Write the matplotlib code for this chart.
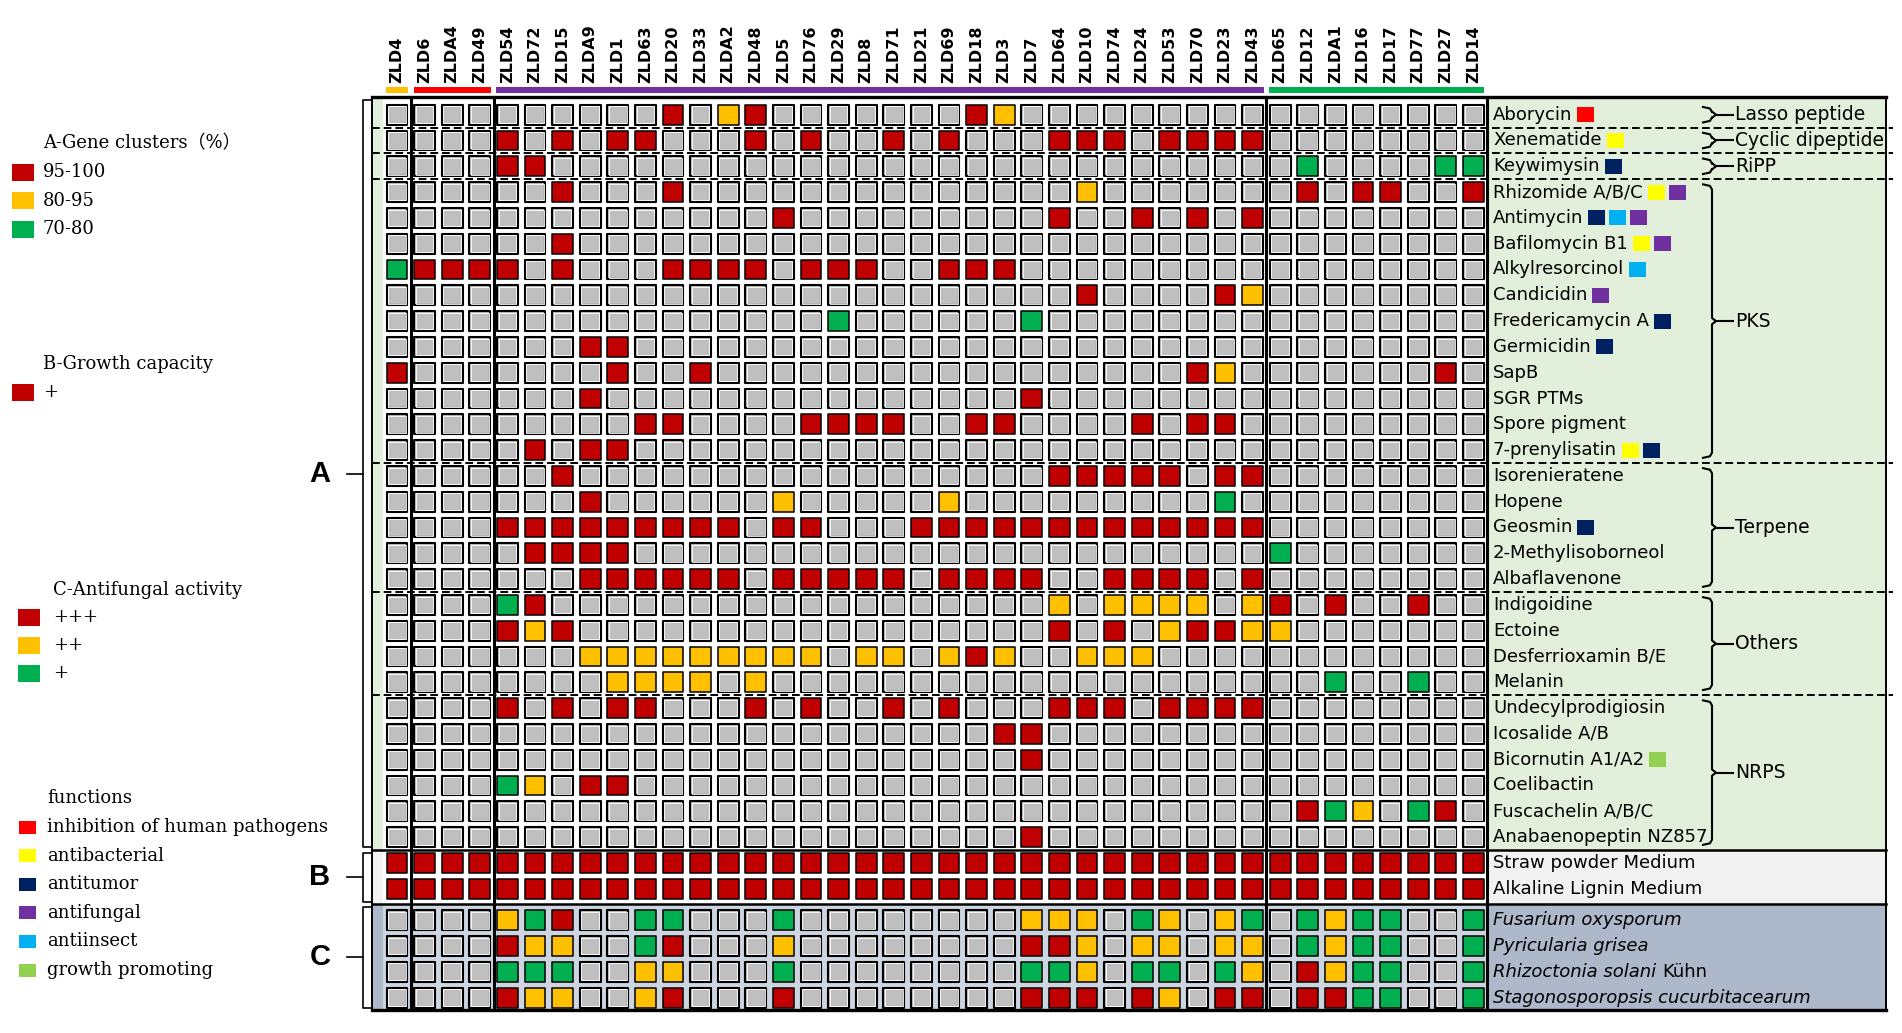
import matplotlib
matplotlib.use("Agg")
import matplotlib.pyplot as plt
from matplotlib.collections import PatchCollection
from matplotlib.patches import Rectangle
from matplotlib.transforms import blended_transform_factory

# ---------------------------------------------------------------- data
STRAINS = ["ZLD4", "ZLD6", "ZLDA4", "ZLD49", "ZLD54", "ZLD72", "ZLD15", "ZLDA9", "ZLD1", "ZLD63",
           "ZLD20", "ZLD33", "ZLDA2", "ZLD48", "ZLD5", "ZLD76", "ZLD29", "ZLD8", "ZLD71", "ZLD21",
           "ZLD69", "ZLD18", "ZLD3", "ZLD7", "ZLD64", "ZLD10", "ZLD74", "ZLD24", "ZLD53", "ZLD70",
           "ZLD23", "ZLD43", "ZLD65", "ZLD12", "ZLDA1", "ZLD16", "ZLD17", "ZLD77", "ZLD27", "ZLD14"]
GROUP_SIZES = [1, 3, 28, 8]

GENE_CLUSTERS = ["Aborycin", "Xenematide", "Keywimysin", "Rhizomide A/B/C", "Antimycin",
                 "Bafilomycin B1", "Alkylresorcinol", "Candicidin", "Fredericamycin A", "Germicidin",
                 "SapB", "SGR PTMs", "Spore pigment", "7-prenylisatin", "Isorenieratene", "Hopene",
                 "Geosmin", "2-Methylisoborneol", "Albaflavenone", "Indigoidine", "Ectoine",
                 "Desferrioxamin B/E", "Melanin", "Undecylprodigiosin", "Icosalide A/B",
                 "Bicornutin A1/A2", "Coelibactin", "Fuscachelin A/B/C", "Anabaenopeptin NZ857"]
# one char per strain: r = 95-100 %, y = 80-95 %, g = 70-80 %, . = not found
GENE_HITS = [
    ".......... r.yr...... .ry....... ..........",
    "....r.r.rr ...r.r..r. r...rrr.rr rr........",
    "....rr.... .......... .......... ...g....gg",
    "......r... r......... .....y.... ...r.rr..r",
    ".......... ....r..... ....r..r.r .r........",
    "......r... .......... .......... ..........",
    "grrrr.r... rrrr.rrr.. rrr....... ..........",
    ".......... .......... .....r.... ry........",
    ".......... ......g... ...g...... ..........",
    ".......rr. .......... .......... ..........",
    "r.......r. .r........ .........r y.......r.",
    ".......r.. .......... ...r...... ..........",
    ".........r r....rrrr. .rr....r.r r.........",
    ".....r.rr. .......... .......... ..........",
    "......r... .......... ....rrrrr. rr........",
    ".......r.. ....y..... y......... g.........",
    "....rrrrrr rrr.rr...r rrrrrrrrrr rr........",
    ".....rrrr. .......... .......... ..g.......",
    ".......rrr rrr.rrrrr. rrrr..rrrr .r........",
    "....gr.... .......... ....y.yyyy .yr.r..r..",
    "....ryr... .......... ....r.r.yr ryy.......",
    ".......yyy yyyyyy.yy. yry..yyy.. ..........",
    "........yy yy.y...... .......... ....g..g..",
    "....r.r.rr ...r.r..r. r...rrr.rr rr........",
    ".......... .......... ..rr...... ..........",
    ".......... .......... ...r...... ..........",
    "....gy.rr. .......... .......... ..........",
    ".......... .......... .......... ...rgy.gr.",
    ".......... .......... ...r...... ..........",
]
# R human pathogens, Y antibacterial, N antitumor, P antifungal, C antiinsect, G growth promoting
GENE_FUNCTIONS = ["R", "Y", "N", "YP", "NCP", "YP", "C", "P", "N", "N", "", "", "", "YN",
                  "", "", "N", "", "", "", "", "", "", "", "", "G", "", "", ""]
CATEGORIES = ["Lasso peptide", "Cyclic dipeptide", "RiPP", "PKS", "Terpene", "Others", "NRPS"]
CATEGORY_SIZES = [1, 1, 1, 11, 5, 4, 6]

MEDIA = ["Straw powder Medium", "Alkaline Lignin Medium"]
GROWTH_HITS = [
    "rrrrrrrrrr rrrrrrrrrr rrrrrrrrrr rrrrrrrrrr",
    "rrrrrrrrrr rrrrrrrrrr rrrrrrrrrr rrrrrrrrrr",
]

PATHOGENS = ["Fusarium oxysporum", "Pyricularia grisea", "Rhizoctonia solani",
             "Stagonosporopsis cucurbitacearum"]
PATHOGEN_AUTHORS = ["", "", "Kühn", ""]
# r = +++, y = ++, g = +
ANTIFUNGAL_HITS = [
    "....ygr..g g...g..... ...yyy.gy. yg.gygg..g",
    "....ryy..g r...y..... ...rry.yy. yy.gygg..g",
    "....ggg..y y...g..... ...ggy.gg. gy.rygg..g",
    "....ryy..y r...r..... ...rrr.ry. rr.rrgg..g",
]

GENE_LEGEND = ["95-100", "80-95", "70-80"]
GROWTH_LEGEND = ["+"]
ANTIFUNGAL_LEGEND = ["+++", "++", "+"]
FUNCTION_LEGEND = ["inhibition of human pathogens", "antibacterial", "antitumor",
                   "antifungal", "antiinsect", "growth promoting"]

# ---------------------------------------------------------------- style
HIT_COLORS = {"r": "#C00000", "y": "#FFC000", "g": "#00B050", ".": "#BFBFBF"}
FUNC_COLORS = {"R": "#FF0000", "Y": "#FFFF00", "N": "#002060", "P": "#7030A0",
               "C": "#00B0F0", "G": "#92D050"}
GROUP_COLORS = ["#FFC000", "#FF0000", "#7030A0", "#00B050"]
GREEN_BG, GRAY_BG, BLUE_BG, C_GRID_BG = "#E2EFDA", "#F2F2F2", "#ADB9CA", "#CDD5E1"
SERIF = ["DejaVu Serif", "Noto Sans CJK SC"]

W, H = 1902, 1033
COL_PITCH, ROW_PITCH = 27.6, 25.8
GRID_LEFT, GRID_TOP = 383.2, 101.8
TOP_PAD, C_GAP = 0.18, 0.22
PANEL_L, PANEL_R, DASH_R = 372, 1886, 1893
LABEL_X, BRACE_X = 1493, 1712

plt.rcParams["font.family"] = "DejaVu Sans"


def strip(s):
    return s.replace(" ", "")


def main():
    fig = plt.figure(figsize=(W / 100, H / 100), dpi=100)
    bg = fig.add_axes([0, 0, 1, 1])
    bg.set_xlim(0, W)
    bg.set_ylim(H, 0)
    bg.axis("off")

    n_col = len(STRAINS)
    n_gene = len(GENE_CLUSTERS)
    y_gene = list(range(n_gene))
    y_growth = [n_gene + i for i in range(len(MEDIA))]
    y_fungal = [y_growth[-1] + 1 + C_GAP + i for i in range(len(PATHOGENS))]
    y_top = -0.5 - TOP_PAD
    y_bottom = y_fungal[-1] + 0.5
    y_ab = n_gene - 0.5
    y_bc = y_growth[-1] + 0.5 + C_GAP / 2

    grid_h = (y_bottom + 0.5) * ROW_PITCH
    grid_w = n_col * COL_PITCH
    ax = fig.add_axes([GRID_LEFT / W, 1 - (GRID_TOP + grid_h) / H, grid_w / W, grid_h / H])
    ax.set_xlim(-0.5, n_col - 0.5)
    ax.set_ylim(y_bottom, -0.5)
    ax.axis("off")
    ax.set_zorder(1)

    trans_row = blended_transform_factory(bg.transData, ax.transData)
    trans_col = blended_transform_factory(ax.transData, bg.transData)

    # panel backgrounds
    for y0, y1, col in [(y_top, y_ab, GREEN_BG), (y_ab, y_bc, GRAY_BG), (y_bc, y_bottom, BLUE_BG)]:
        bg.add_patch(Rectangle((PANEL_L, y0), PANEL_R - PANEL_L, y1 - y0, transform=trans_row,
                               facecolor=col, edgecolor="none", zorder=0))
    ax.add_patch(Rectangle((-0.5, y_top), n_col, y_bc - y_top, facecolor="white",
                           edgecolor="none", zorder=0, clip_on=False))
    ax.add_patch(Rectangle((-0.5, y_bc), n_col, y_bottom - y_bc, facecolor=C_GRID_BG,
                           edgecolor="none", zorder=0, clip_on=False))

    # cells
    cw, ch = 0.76, 0.775
    ix, iy = 0.058, 0.062
    rects, faces, widths, inner = [], [], [], []
    for rows, ys in [(GENE_HITS, y_gene), (GROWTH_HITS, y_growth), (ANTIFUNGAL_HITS, y_fungal)]:
        for codes, y in zip(rows, ys):
            for j, c in enumerate(strip(codes)):
                rects.append(Rectangle((j - cw / 2, y - ch / 2), cw, ch))
                faces.append(HIT_COLORS[c])
                widths.append(1.5 if c == "." else 1.1)
                if c == ".":
                    inner.append(Rectangle((j - cw / 2 + ix, y - ch / 2 + iy), cw - 2 * ix, ch - 2 * iy))
    ax.add_collection(PatchCollection(rects, facecolors=faces, edgecolors="black",
                                      linewidths=widths, zorder=2, clip_on=False))
    ax.add_collection(PatchCollection(inner, facecolors="none", edgecolors="white",
                                      linewidths=0.6, zorder=2.1, clip_on=False))

    # dashed category separators
    bounds, acc = [], 0
    for s in CATEGORY_SIZES[:-1]:
        acc += s
        bounds.append(acc - 0.5)
    for yb in bounds:
        ax.plot([PANEL_L, DASH_R], [yb, yb], transform=trans_row, color="black", lw=1.4,
                dashes=(4, 2), zorder=1.5, clip_on=False)

    # frame lines
    for yb, lw in [(y_top, 2.4), (y_ab, 1.8), (y_bc, 1.8), (y_bottom, 2.4)]:
        ax.plot([PANEL_L, PANEL_R], [yb, yb], transform=trans_row, color="black", lw=lw,
                zorder=3, clip_on=False)
    for xb in [PANEL_L, PANEL_R]:
        ax.plot([xb, xb], [y_top, y_bottom], transform=trans_row, color="black", lw=1.4,
                zorder=3, clip_on=False)
    seps, acc = [], 0
    for s in GROUP_SIZES:
        acc += s
        seps.append(acc - 0.5)
    for xb in seps:
        ax.plot([xb, xb], [y_top, y_bottom], color="black", lw=2.2, zorder=3, clip_on=False)

    # strain labels and group bars
    for j, name in enumerate(STRAINS):
        bg.text(j, 83, name, transform=trans_col, rotation=90, ha="center", va="bottom",
                fontsize=11.5, fontweight="bold")
    start = 0
    for s, col in zip(GROUP_SIZES, GROUP_COLORS):
        bg.add_patch(Rectangle((start - 0.4, 87), s - 0.2, 6, transform=trans_col,
                               facecolor=col, edgecolor="none"))
        start += s

    # row labels
    gene_texts = []
    for name, y in zip(GENE_CLUSTERS, y_gene):
        gene_texts.append(ax.text(LABEL_X, y, name, transform=trans_row, va="center",
                                  ha="left", fontsize=13, zorder=4, clip_on=False))
    for name, y in zip(MEDIA, y_growth):
        ax.text(LABEL_X, y, name, transform=trans_row, va="center", ha="left", fontsize=13,
                zorder=4, clip_on=False)
    fungal_texts = []
    for name, y in zip(PATHOGENS, y_fungal):
        fungal_texts.append(ax.text(LABEL_X, y, name, transform=trans_row, va="center",
                                    ha="left", fontsize=13, style="italic", zorder=4,
                                    clip_on=False))

    renderer = fig.canvas.get_renderer()
    inv = bg.transData.inverted()

    def right_edge(t):
        bb = t.get_window_extent(renderer)
        return inv.transform((bb.x1, bb.y0))[0]

    for t, funcs, y in zip(gene_texts, GENE_FUNCTIONS, y_gene):
        if not funcs:
            continue
        x0 = right_edge(t) + 5
        for k, f in enumerate(funcs):
            ax.add_patch(Rectangle((x0 + k * 21, y - 0.29), 17, 0.58, transform=trans_row,
                                   facecolor=FUNC_COLORS[f], edgecolor="none", zorder=4,
                                   clip_on=False))
    for t, author, y in zip(fungal_texts, PATHOGEN_AUTHORS, y_fungal):
        if author:
            ax.text(right_edge(t) + 6, y, author, transform=trans_row, va="center",
                    ha="left", fontsize=13, zorder=4, clip_on=False)

    # category braces
    r0 = 0
    for name, s in zip(CATEGORIES, CATEGORY_SIZES):
        top, bot = r0 - 0.3, r0 + s - 1 + 0.3
        mid = (top + bot) / 2
        xs = [BRACE_X - 9, BRACE_X - 2, BRACE_X, BRACE_X, BRACE_X + 4, BRACE_X, BRACE_X,
              BRACE_X - 2, BRACE_X - 9]
        ys = [top, top + 0.06, top + 0.2, mid - 0.12, mid, mid + 0.12, bot - 0.2, bot - 0.06, bot]
        ax.plot(xs, ys, transform=trans_row, color="black", lw=1.5, zorder=4, clip_on=False)
        ax.plot([BRACE_X + 4, BRACE_X + 21], [mid, mid], transform=trans_row, color="black",
                lw=1.5, zorder=4, clip_on=False)
        ax.text(BRACE_X + 23, mid, name, transform=trans_row, va="center", ha="left",
                fontsize=13.5, zorder=4, clip_on=False)
        r0 += s

    # left section brackets A / B / C
    for letter, y0, y1 in [("A", y_top, y_ab), ("B", y_ab, y_bc), ("C", y_bc, y_bottom)]:
        e = 0.1
        ax.plot([PANEL_L, 363, 363, PANEL_L], [y0 + e, y0 + e, y1 - e, y1 - e],
                transform=trans_row, color="black", lw=1.2, zorder=3, clip_on=False)
        mid = (y0 + y1) / 2
        ax.plot([347, 363], [mid, mid], transform=trans_row, color="black", lw=1.2,
                zorder=3, clip_on=False)
        ax.text(320, mid, letter, transform=trans_row, ha="center", va="center",
                fontsize=21, fontweight="bold", family="Liberation Sans", zorder=3,
                clip_on=False)

    # legend
    def legend_block(title, tx, ty, labels, colors, px, py, pw, ph, step):
        bg.text(tx, ty, title, va="center", ha="left", fontsize=13, family=SERIF)
        for k, (lab, col) in enumerate(zip(labels, colors)):
            yk = py + k * step
            bg.add_patch(Rectangle((px, yk - ph / 2), pw, ph, facecolor=col, edgecolor="none"))
            bg.text(tx, yk, lab, va="center", ha="left", fontsize=13, family=SERIF)

    legend_block("A-Gene clusters（%）", 43, 143, GENE_LEGEND,
                 [HIT_COLORS["r"], HIT_COLORS["y"], HIT_COLORS["g"]], 12, 172, 22, 17, 28.5)
    legend_block("B-Growth capacity", 43, 364, GROWTH_LEGEND, [HIT_COLORS["r"]],
                 12, 392, 22, 17, 28)
    legend_block("C-Antifungal activity", 53, 590, ANTIFUNGAL_LEGEND,
                 [HIT_COLORS["r"], HIT_COLORS["y"], HIT_COLORS["g"]], 18, 617, 22, 17, 28)
    legend_block("functions", 47, 798, FUNCTION_LEGEND,
                 [FUNC_COLORS[c] for c in "RYNPCG"], 19, 827, 17, 13, 28.6)

    fig.savefig("out.png", dpi=100)


if __name__ == "__main__":
    main()
